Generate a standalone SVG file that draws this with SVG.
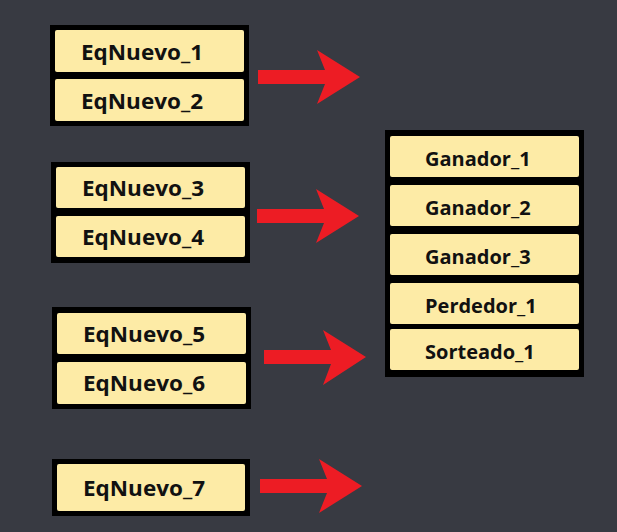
<svg xmlns="http://www.w3.org/2000/svg" width="617" height="532" viewBox="0 0 617 532">
<style>
.bg{fill:#383a42}
.frame{fill:#000}
.cell{fill:#fdeba6;rx:2px}
.lt{font-family:"Open Sans","DejaVu Sans",sans-serif;font-weight:700;font-size:21.5px;fill:#111}
.rt{font-family:"Open Sans","DejaVu Sans",sans-serif;font-weight:700;font-size:20px;fill:#111}
.arrow{fill:#ed1c24}
</style>
<rect class="bg" x="0" y="0" width="617" height="532"/>
<g id="grupo1">
<rect class="frame" x="50" y="25" width="199" height="101"/>
<rect class="cell" x="55" y="30" width="189" height="42"/>
<rect class="cell" x="55" y="79" width="189" height="42"/>
<text class="lt" x="81" y="59.5" textLength="122" lengthAdjust="spacingAndGlyphs">EqNuevo_1</text>
<text class="lt" x="81" y="108.5" textLength="122" lengthAdjust="spacingAndGlyphs">EqNuevo_2</text>
</g>
<g id="grupo2">
<rect class="frame" x="51" y="162" width="199" height="101"/>
<rect class="cell" x="56" y="167" width="189" height="41"/>
<rect class="cell" x="56" y="216" width="189" height="41"/>
<text class="lt" x="82" y="196" textLength="122" lengthAdjust="spacingAndGlyphs">EqNuevo_3</text>
<text class="lt" x="82" y="245" textLength="122" lengthAdjust="spacingAndGlyphs">EqNuevo_4</text>
</g>
<g id="grupo3">
<rect class="frame" x="52" y="307" width="199" height="102"/>
<rect class="cell" x="57" y="313" width="189" height="41"/>
<rect class="cell" x="57" y="362" width="189" height="42"/>
<text class="lt" x="83" y="342" textLength="122" lengthAdjust="spacingAndGlyphs">EqNuevo_5</text>
<text class="lt" x="83" y="391" textLength="122" lengthAdjust="spacingAndGlyphs">EqNuevo_6</text>
</g>
<g id="grupo4">
<rect class="frame" x="52" y="459" width="198" height="57"/>
<rect class="cell" x="57" y="464" width="188" height="47"/>
<text class="lt" x="83" y="496" textLength="122" lengthAdjust="spacingAndGlyphs">EqNuevo_7</text>
</g>
<g id="resultados">
<rect class="frame" x="385" y="130" width="199" height="247"/>
<rect class="cell" x="390" y="136" width="189" height="41"/>
<rect class="cell" x="390" y="185" width="189" height="41"/>
<rect class="cell" x="390" y="234" width="189" height="41"/>
<rect class="cell" x="390" y="283" width="189" height="41"/>
<rect class="cell" x="390" y="329" width="189" height="41"/>
<text class="rt" x="425" y="166">Ganador_1</text>
<text class="rt" x="425" y="215">Ganador_2</text>
<text class="rt" x="425" y="264">Ganador_3</text>
<text class="rt" x="425" y="313">Perdedor_1</text>
<text class="rt" x="425" y="359">Sorteado_1</text>
</g>
<g id="conectores">
<polygon class="arrow" points="258,70 325,70 317,50 360,77 317,104 325,84 258,84"/>
<polygon class="arrow" points="257,209 324,209 316,189 359,216 316,243 324,223 257,223"/>
<polygon class="arrow" points="264,350 331,350 323,330 366,357 323,385 331,364 264,364"/>
<polygon class="arrow" points="260,479 327,479 319,459 362,486 319,513 327,493 260,493"/>
</g>
</svg>
